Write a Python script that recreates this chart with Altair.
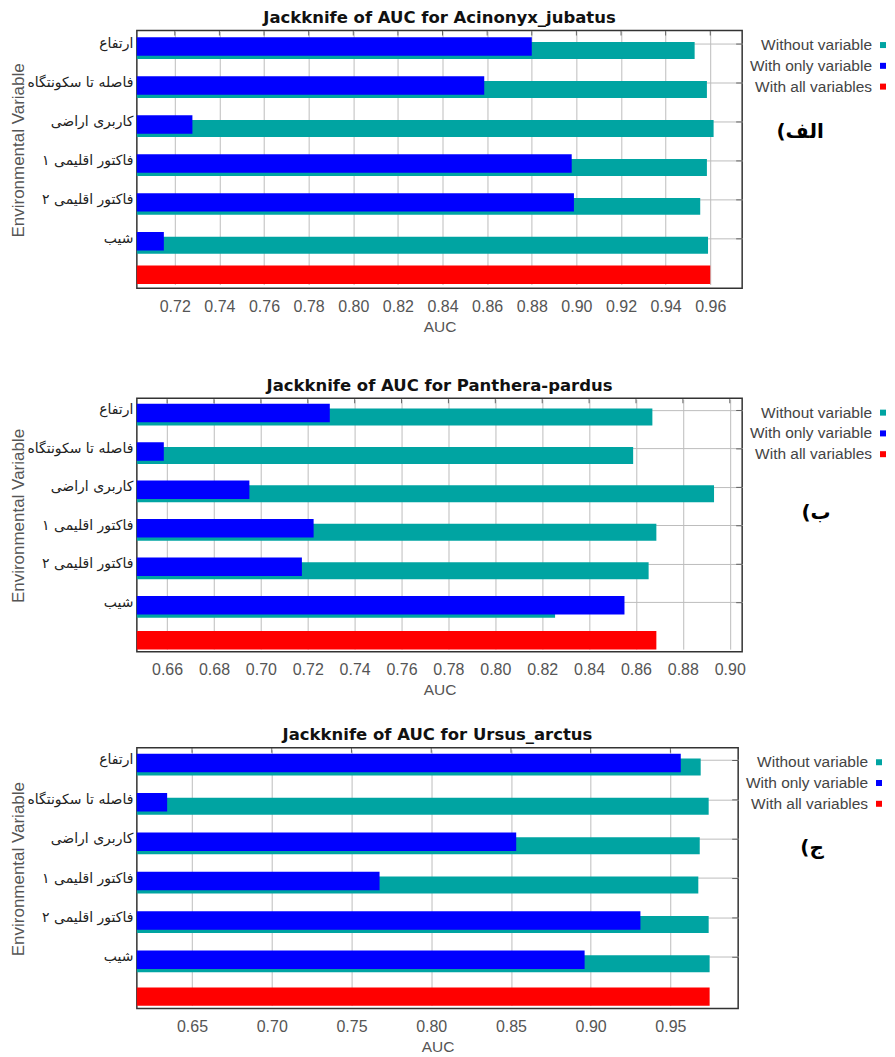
import altair as alt
import pandas as pd

# ---------------- data ----------------
variables = ["ارتفاع", "فاصله تا سکونتگاه", "کاربری اراضی",
             "فاکتور اقلیمی ۱", "فاکتور اقلیمی ۲", "شیب"]
all_key = "all"

legend_labels = ["Without variable", "With only variable", "With all variables"]

acinonyx_title = "Jackknife of AUC for Acinonyx_jubatus"
acinonyx_without = [0.953, 0.9585, 0.9615, 0.9585, 0.9555, 0.959]
acinonyx_only = [0.880, 0.8587, 0.7279, 0.8979, 0.8989, 0.7151]
acinonyx_all = 0.960
acinonyx_ticks = [0.72, 0.74, 0.76, 0.78, 0.80, 0.82, 0.84, 0.86, 0.88, 0.90, 0.92, 0.94, 0.96]
acinonyx_domain = [0.703, 0.9743]

panthera_title = "Jackknife of AUC for Panthera-pardus"
panthera_without = [0.867, 0.8588, 0.8933, 0.8687, 0.8654, 0.8255]
panthera_only = [0.7294, 0.6586, 0.6951, 0.7225, 0.7175, 0.8551]
panthera_all = 0.8687
panthera_ticks = [0.66, 0.68, 0.70, 0.72, 0.74, 0.76, 0.78, 0.80, 0.82, 0.84, 0.86, 0.88, 0.90]
panthera_domain = [0.6471, 0.9053]

ursus_title = "Jackknife of AUC for Ursus_arctus"
ursus_without = [0.969, 0.974, 0.9684, 0.9675, 0.974, 0.9746]
ursus_only = [0.9565, 0.6344, 0.8533, 0.7676, 0.9312, 0.8962]
ursus_all = 0.9746
ursus_ticks = [0.65, 0.70, 0.75, 0.80, 0.85, 0.90, 0.95]
ursus_domain = [0.6154, 0.9925]

panel_letters = ["الف)", "ب)", "ج)"]

# ---------------- styles ----------------
TEAL = "#00a4a2"
BLUE = "#0000ff"
RED = "#ff0000"
GRID = "#bdbdbd"
FRAME = "#333333"
FONT = "Liberation Sans"
legend_colors = [TEAL, BLUE, RED]
RLE, PDF = "\u202B", "\u202C"   # right-to-left embedding for the Persian captions


def panel(title, without, only, all_val, ticks, domain, W, H, y_range,
          red_offset, letter, letter_dx, letter_y):
    df = pd.DataFrame({"var": variables, "without": without, "only": only})
    df_all = pd.DataFrame({"var": [all_key], "auc": [all_val]})
    order = variables + [all_key]

    yscale = alt.Scale(domain=order, range=y_range, paddingInner=0.5, paddingOuter=0)
    xscale = alt.Scale(domain=domain, nice=False, zero=False)

    xaxis = alt.Axis(values=ticks, format=".2f", title="AUC", grid=True,
                     gridColor=GRID, gridWidth=1, ticks=False, tickSize=0,
                     domain=False, labelFont=FONT, labelFontSize=16,
                     labelColor="#555555", labelPadding=10, labelFlush=False,
                     labelOverlap=False, titleFont=FONT, titleFontSize=15.5,
                     titleFontWeight="normal", titleColor="#555555",
                     titleY=38, titleBaseline="middle")
    yaxis = alt.Axis(values=variables, title="Environmental Variable",
                     grid=True, gridColor=GRID, gridWidth=1, ticks=False,
                     tickSize=0, domain=False, bandPosition=0.5,
                     labelFont="DejaVu Sans", labelFontSize=14,
                     labelColor="#222222", labelPadding=4,
                     titleFont=FONT, titleFontSize=17, titleFontWeight="normal",
                     titleColor="#555555", titleX=-118, titleY=H / 2 - 9.5,
                     titleAngle=270, titleAlign="center", titleBaseline="middle")

    teal = alt.Chart(df).mark_bar(color=TEAL, size=17, yOffset=6.5, clip=True).encode(
        x=alt.X("without:Q", scale=xscale, axis=xaxis),
        y=alt.Y("var:N", sort=order, scale=yscale, axis=yaxis),
    )
    blue = alt.Chart(df).mark_bar(color=BLUE, size=18.5, yOffset=2.5, clip=True).encode(
        x=alt.X("only:Q", scale=xscale),
        y=alt.Y("var:N", sort=order, scale=yscale),
    )
    red = alt.Chart(df_all).mark_bar(color=RED, size=18.5, yOffset=red_offset, clip=True).encode(
        x=alt.X("auc:Q", scale=xscale),
        y=alt.Y("var:N", sort=order, scale=yscale),
    )
    top_ticks = alt.Chart(pd.DataFrame({"t": ticks})).mark_tick(
        orient="vertical", color=FRAME, size=5, thickness=1).encode(
        x=alt.X("t:Q", scale=xscale), y=alt.value(2.5))
    right_ticks = alt.Chart(df).mark_tick(
        orient="horizontal", color=FRAME, size=6, thickness=1).encode(
        y=alt.Y("var:N", sort=order, scale=yscale), x=alt.value(W - 3))

    layers = [teal, blue, red, top_ticks, right_ticks]
    for i, (lab, col) in enumerate(zip(legend_labels, legend_colors)):
        ly = 14.5 + 20.8 * i
        layers.append(
            alt.Chart(alt.InlineData(values=[{"label": lab}])).mark_text(
                align="right", baseline="middle", font=FONT, fontSize=15.5,
                color="#444444").encode(
                x=alt.value(W + 130), y=alt.value(ly), text="label:N"))
        layers.append(
            alt.Chart(alt.InlineData(values=[{"label": lab}])).mark_square(
                size=36, filled=True, opacity=1, color=col).encode(
                x=alt.value(W + 141), y=alt.value(ly)))
    layers.append(
        alt.Chart(alt.InlineData(values=[{"t": RLE + letter + PDF}])).mark_text(
            align="center", baseline="middle", font="DejaVu Sans",
            fontWeight="bold", fontSize=20, color="#000000").encode(
            x=alt.value(W + letter_dx), y=alt.value(letter_y), text="t:N"))

    return alt.layer(*layers).properties(
        width=W, height=H,
        title=alt.TitleParams(text=title, font="DejaVu Sans", fontSize=16.5,
                              fontWeight="bold", color="#111111",
                              anchor="middle", frame="group", offset=4),
    )


p1 = panel(acinonyx_title, acinonyx_without, acinonyx_only, acinonyx_all,
           acinonyx_ticks, acinonyx_domain, 606, 258, [3.75, 257.25], -3,
           panel_letters[0], 58, 102)
p2 = panel(panthera_title, panthera_without, panthera_only, panthera_all,
           panthera_ticks, panthera_domain, 606, 254, [2.7, 252.9], -1,
           panel_letters[1], 74, 115)
p3 = panel(ursus_title, ursus_without, ursus_only, ursus_all,
           ursus_ticks, ursus_domain, 602, 261, [2.9, 259.0], 0,
           panel_letters[2], 74, 100)

chart = alt.vconcat(alt.vconcat(p1, p2, spacing=40), p3, spacing=26).configure_view(
    stroke=FRAME, strokeWidth=1.5
).properties(padding={"left": 1, "top": 0, "right": 0, "bottom": 0})

chart.save("out.html", embed_options={"renderer": "svg", "actions": False})
